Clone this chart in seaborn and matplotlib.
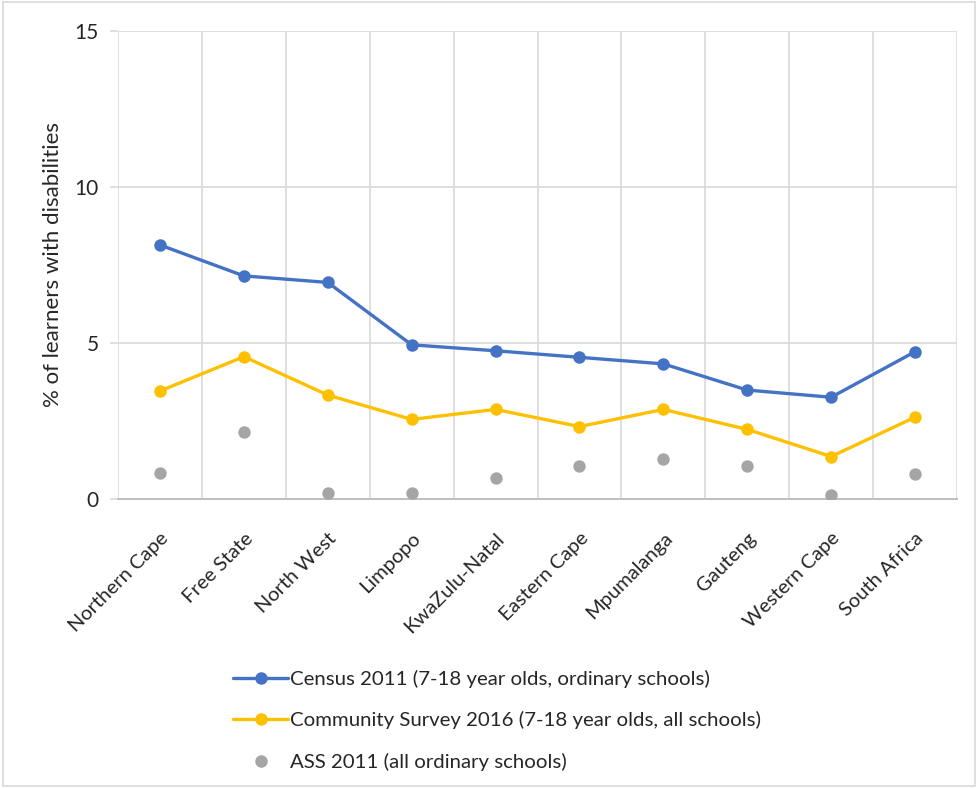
import matplotlib
matplotlib.use("Agg")
import matplotlib.pyplot as plt
import seaborn as sns
import pandas as pd
from matplotlib.lines import Line2D
from matplotlib.patches import Rectangle

provinces = ["Northern Cape", "Free State", "North West", "Limpopo", "KwaZulu-Natal",
             "Eastern Cape", "Mpumalanga", "Gauteng", "Western Cape", "South Africa"]
census_2011 = [8.14, 7.15, 6.94, 4.94, 4.75, 4.54, 4.33, 3.49, 3.26, 4.72]
community_2016 = [3.46, 4.56, 3.33, 2.55, 2.87, 2.32, 2.87, 2.23, 1.36, 2.62]
ass_2011 = [0.82, 2.16, 0.18, 0.18, 0.66, 1.06, 1.27, 1.06, 0.13, 0.79]
yticks = [0, 5, 10, 15]

lab_census = "Census 2011 (7-18 year olds, ordinary schools)"
lab_cs = "Community Survey 2016 (7-18 year olds, all schools)"
lab_ass = "ASS 2011 (all ordinary schools)"

c_blue = "#4472C4"
c_gold = "#FFC000"
c_gray = "#A5A5A5"
grid_c = "#D9D9D9"

sns.set_theme(style="white")
plt.rcParams["font.family"] = ["Lato", "DejaVu Sans"]

x = list(range(len(provinces)))
df = pd.DataFrame({"x": x, "census": census_2011, "cs": community_2016, "ass": ass_2011})

fig = plt.figure(figsize=(9.78, 7.88), dpi=100)
fig.patch.set_facecolor("white")
fig.add_artist(Rectangle((0.003, 0.003), 0.994, 0.994, transform=fig.transFigure,
                         fill=False, edgecolor="#D9D9D9", linewidth=1.2))
ax = fig.add_axes([0.1207, 0.3668, 0.8578, 0.5939])

sns.lineplot(data=df, x="x", y="census", ax=ax, color=c_blue, linewidth=2.4,
             marker="o", markersize=9, markeredgewidth=0, label=lab_census)
sns.lineplot(data=df, x="x", y="cs", ax=ax, color=c_gold, linewidth=2.4,
             marker="o", markersize=9, markeredgewidth=0, label=lab_cs)
sns.scatterplot(data=df, x="x", y="ass", ax=ax, color=c_gray, s=80, linewidth=0,
                label=lab_ass, zorder=3)

ax.set_xlim(-0.5, len(provinces) - 0.5)
ax.set_ylim(0, 15)
ax.set_yticks(yticks)
ax.set_yticklabels([str(v) for v in yticks], fontsize=15, color="#262626")
ax.set_xticks(x)
ax.set_xticklabels(provinces, rotation=45, ha="right", rotation_mode="anchor",
                   fontsize=14.5, color="#262626")
ax.set_xticks([i - 0.5 for i in range(len(provinces) + 1)], minor=True)
ax.tick_params(axis="x", which="major", length=0, pad=22)
ax.tick_params(axis="x", which="minor", length=0)
ax.tick_params(axis="y", which="major", length=6, color=grid_c, width=1.2, pad=8, left=True)
ax.grid(axis="y", which="major", color=grid_c, linewidth=1.2)
ax.grid(axis="x", which="minor", color=grid_c, linewidth=1.2)
ax.grid(axis="x", which="major", visible=False)
ax.set_axisbelow(True)
for s in ax.spines.values():
    s.set_visible(False)
ax.spines["bottom"].set_visible(True)
ax.spines["bottom"].set_color("#BFBFBF")
ax.spines["bottom"].set_linewidth(1.4)
ax.set_xlabel("")
ax.set_ylabel("% of learners with disabilities", fontsize=16, color="#262626", labelpad=8)

ax.get_legend().remove()
handles = [
    Line2D([], [], color=c_blue, linewidth=2.4, marker="o", markersize=9, markeredgewidth=0),
    Line2D([], [], color=c_gold, linewidth=2.4, marker="o", markersize=9, markeredgewidth=0),
    Line2D([], [], color=c_gray, linestyle="none", marker="o", markersize=9, markeredgewidth=0),
]
leg = fig.legend(handles, [lab_census, lab_cs, lab_ass], loc="upper left",
                 bbox_to_anchor=(0.228, 0.163), frameon=False, fontsize=14.7,
                 handlelength=2.7, handletextpad=0.1, labelspacing=1.15, borderpad=0)
for t in leg.get_texts():
    t.set_color("#262626")

fig.savefig("out.png", dpi=100, facecolor="white")
